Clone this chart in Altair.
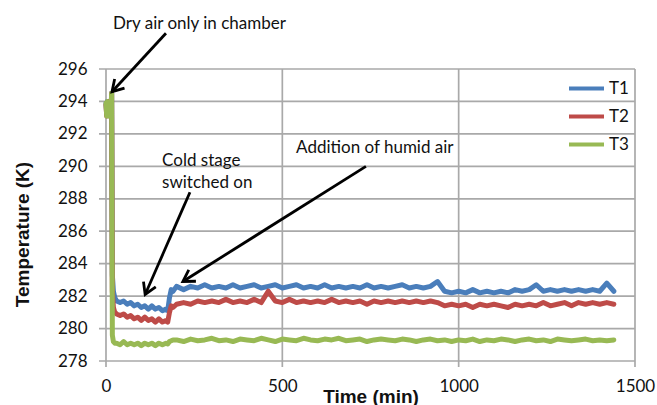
import math
import altair as alt
import pandas as pd

# ---------------- data ----------------
time_min = (
    [0, 2, 4, 6, 8, 10, 12, 14, 16, 18, 21, 25, 30]
    + [40, 50, 60, 70, 80, 90, 100, 110, 120, 130, 140, 150, 160, 170]
    + [175, 180, 185, 190]
    + list(range(200, 1441, 20))
)

t1 = (
    [293.9, 293.2, 294.0, 293.3, 293.9, 293.1, 294.0, 293.4, 294.5, 283.3, 282.3, 281.9, 281.7]
    + [281.6, 281.7, 281.5, 281.6, 281.4, 281.5, 281.3, 281.4, 281.2, 281.4, 281.2, 281.3, 281.1, 281.2]
    + [281.1, 281.9, 282.4, 282.3]
    + [282.6, 282.4, 282.6, 282.5, 282.7, 282.5, 282.6, 282.5, 282.7, 282.5]
    + [282.6, 282.7, 282.5, 282.6, 282.7, 282.5, 282.6, 282.7, 282.5, 282.6]
    + [282.5, 282.7, 282.5, 282.6, 282.5, 282.6, 282.5, 282.7, 282.5, 282.6]
    + [282.5, 282.6, 282.7, 282.5, 282.6, 282.5, 282.6, 282.9, 282.3, 282.2]
    + [282.3, 282.2, 282.4, 282.2, 282.3, 282.2, 282.3, 282.2, 282.4, 282.3]
    + [282.4, 282.7, 282.3, 282.4, 282.3, 282.4, 282.3, 282.4, 282.3, 282.4]
    + [282.3, 282.8, 282.3]
)

t2 = (
    [293.8, 293.1, 293.9, 293.2, 294.0, 293.2, 293.9, 293.3, 294.5, 282.3, 281.3, 281.0, 280.9]
    + [280.8, 280.9, 280.7, 280.8, 280.6, 280.7, 280.5, 280.7, 280.5, 280.6, 280.4, 280.6, 280.4, 280.5]
    + [280.4, 281.0, 281.4, 281.3]
    + [281.5, 281.6, 281.5, 281.7, 281.6, 281.7, 281.6, 281.8, 281.6, 281.7]
    + [281.6, 281.8, 281.6, 282.3, 281.7, 281.6, 281.8, 281.6, 281.7, 281.6]
    + [281.7, 281.6, 281.8, 281.6, 281.7, 281.6, 281.7, 281.5, 281.7, 281.6]
    + [281.7, 281.6, 281.7, 281.6, 281.7, 281.6, 281.7, 281.6, 281.4, 281.5]
    + [281.4, 281.5, 281.3, 281.5, 281.4, 281.5, 281.4, 281.3, 281.5, 281.4]
    + [281.5, 281.4, 281.6, 281.4, 281.5, 281.6, 281.4, 281.6, 281.5, 281.6]
    + [281.5, 281.6, 281.5]
)

t3 = (
    [293.9, 293.1, 294.0, 293.2, 293.9, 293.1, 294.0, 293.3, 294.5, 279.6, 279.2, 279.1, 279.1]
    + [279.0, 279.2, 279.0, 279.1, 279.0, 279.1, 278.95, 279.1, 279.0, 279.1, 278.95, 279.1, 279.0, 279.1]
    + [279.05, 279.2, 279.25, 279.3]
    + [279.3, 279.2, 279.35, 279.25, 279.3, 279.4, 279.25, 279.3, 279.2, 279.35]
    + [279.3, 279.25, 279.4, 279.3, 279.2, 279.35, 279.3, 279.25, 279.4, 279.3]
    + [279.25, 279.35, 279.3, 279.4, 279.25, 279.3, 279.35, 279.2, 279.3, 279.35]
    + [279.3, 279.25, 279.35, 279.3, 279.2, 279.3, 279.35, 279.25, 279.3, 279.2]
    + [279.3, 279.25, 279.35, 279.2, 279.3, 279.25, 279.35, 279.3, 279.2, 279.3]
    + [279.35, 279.25, 279.3, 279.2, 279.35, 279.3, 279.25, 279.3, 279.35, 279.25]
    + [279.3, 279.25, 279.3]
)

series_names = ["T1", "T2", "T3"]
series_colors = ["#4A7EBB", "#BE4B48", "#98B954"]

x_ticks = [0, 500, 1000, 1500]
y_ticks = [278, 280, 282, 284, 286, 288, 290, 292, 294, 296]

X_TITLE = "Time (min)"
Y_TITLE = "Temperature (K)"

# annotations (data coordinates)
ann_text = ["Dry air only in chamber", "Cold stage\nswitched on", "Addition of humid air"]
ann_x = [20, 159, 539]
ann_y = [298.8, 290.35, 291.1]

arrow_x_start = [170, 238, 737]
arrow_y_start = [298.2, 288.4, 290.0]
arrow_x_end = [17, 111, 218]
arrow_y_end = [294.6, 282.1, 282.9]

# ---------------- layout ----------------
W, H = 529, 292
X_DOM = [0, 1500]
Y_DOM = [278, 296]
GRID = "#A9A9A9"
X_TICK_PX, Y_TICK_PX = 6, 7

assert len(time_min) == len(t1) == len(t2) == len(t3)

df = pd.DataFrame({
    "time": time_min * 3,
    "temp": t1 + t2 + t3,
    "series": [s for s in series_names for _ in time_min],
})

def screen_angle(x0, y0, x1, y1):
    dx = (x1 - x0) * W / (X_DOM[1] - X_DOM[0])
    dy = -(y1 - y0) * H / (Y_DOM[1] - Y_DOM[0])
    a = math.degrees(math.atan2(dx, -dy))
    return a % 360

arrows = pd.DataFrame({
    "xs": arrow_x_start, "ys": arrow_y_start,
    "xe": arrow_x_end, "ye": arrow_y_end,
})
arrows["angle"] = [screen_angle(a, b, c, d) for a, b, c, d in
                   zip(arrow_x_start, arrow_y_start, arrow_x_end, arrow_y_end)]

ann = pd.DataFrame({"label": ann_text, "x": ann_x, "y": ann_y})

# gridlines + tick marks, built from the tick arrays
x_unit_per_px = (X_DOM[1] - X_DOM[0]) / W
y_unit_per_px = (Y_DOM[1] - Y_DOM[0]) / H
vgrid = pd.DataFrame({"x": x_ticks, "y": Y_DOM[0] - X_TICK_PX * y_unit_per_px, "y2": Y_DOM[1]})
hgrid = pd.DataFrame({"y": y_ticks, "x": X_DOM[0] - Y_TICK_PX * x_unit_per_px, "x2": X_DOM[1]})

xscale = alt.Scale(domain=X_DOM, nice=False, zero=False)
yscale = alt.Scale(domain=Y_DOM, nice=False, zero=False)

x_axis = alt.Axis(values=x_ticks, title=X_TITLE, format="d", grid=False,
                  domain=False, ticks=False, labelPadding=17, labelBaseline="top",
                  labelFlush=False,
                  titleX=264.5, titleY=41, titleAlign="center",
                  titleBaseline="alphabetic")
y_axis = alt.Axis(values=y_ticks, title=Y_TITLE, format="d", grid=False,
                  domain=False, ticks=False, labelPadding=19,
                  titleX=-84, titleY=165, titleAngle=270,
                  titleAlign="center", titleBaseline="middle")

vrules = alt.Chart(vgrid).mark_rule(color=GRID, strokeWidth=1.7, opacity=1).encode(
    x=alt.X("x:Q", scale=xscale, axis=x_axis),
    y=alt.Y("y:Q", scale=yscale, axis=y_axis),
    y2="y2:Q",
)
hrules = alt.Chart(hgrid).mark_rule(color=GRID, strokeWidth=1.7, opacity=1).encode(
    y=alt.Y("y:Q", scale=yscale, axis=y_axis),
    x=alt.X("x:Q", scale=xscale, axis=x_axis),
    x2="x2:Q",
)

lines = alt.Chart(df).mark_line(strokeWidth=5, strokeJoin="round", strokeCap="round").encode(
    x=alt.X("time:Q", scale=xscale, axis=x_axis),
    y=alt.Y("temp:Q", scale=yscale, axis=y_axis),
    color=alt.Color("series:N",
                    scale=alt.Scale(domain=series_names, range=series_colors),
                    legend=alt.Legend(orient="none", legendX=461, legendY=0, title=None,
                                      symbolType="stroke", symbolSize=1225,
                                      symbolStrokeWidth=4, labelFont="Lato",
                                      labelFontSize=17, labelColor="#111111",
                                      labelOffset=3, rowPadding=-1.5, padding=0)),
    order=alt.Order("time:Q"),
)

rules = alt.Chart(arrows).mark_rule(color="black", strokeWidth=2.8).encode(
    x=alt.X("xs:Q", scale=xscale, axis=x_axis),
    y=alt.Y("ys:Q", scale=yscale, axis=y_axis),
    x2="xe:Q",
    y2="ye:Q",
)

heads = alt.Chart(arrows).mark_point(
    shape="M -0.6 1 L 0 0 L 0.6 1", filled=False, color="black",
    strokeWidth=2.8, size=500, opacity=1, strokeJoin="miter",
).encode(
    x=alt.X("xe:Q", scale=xscale, axis=x_axis),
    y=alt.Y("ye:Q", scale=yscale, axis=y_axis),
    angle=alt.Angle("angle:Q", scale=None),
)

texts = alt.Chart(ann).mark_text(
    align="left", baseline="middle", font="Lato", fontSize=17,
    color="#111111", lineBreak="\n", lineHeight=22,
).encode(
    x=alt.X("x:Q", scale=xscale, axis=x_axis),
    y=alt.Y("y:Q", scale=yscale, axis=y_axis),
    text="label:N",
)

chart = alt.layer(vrules, hrules, lines, rules, heads, texts).properties(
    width=W, height=H,
    padding={"left": 106, "top": 69, "right": 22, "bottom": 44},
    autosize=alt.AutoSizeParams(type="none"),
    background="white",
).configure_view(stroke=None).configure_axis(
    labelFont="Lato", labelFontSize=17, labelColor="#111111",
    titleFont="Liberation Sans", titleFontSize=19, titleFontWeight="bold",
    titleColor="#111111",
)

chart.save("out.html", embed_options={"renderer": "svg", "actions": False})
